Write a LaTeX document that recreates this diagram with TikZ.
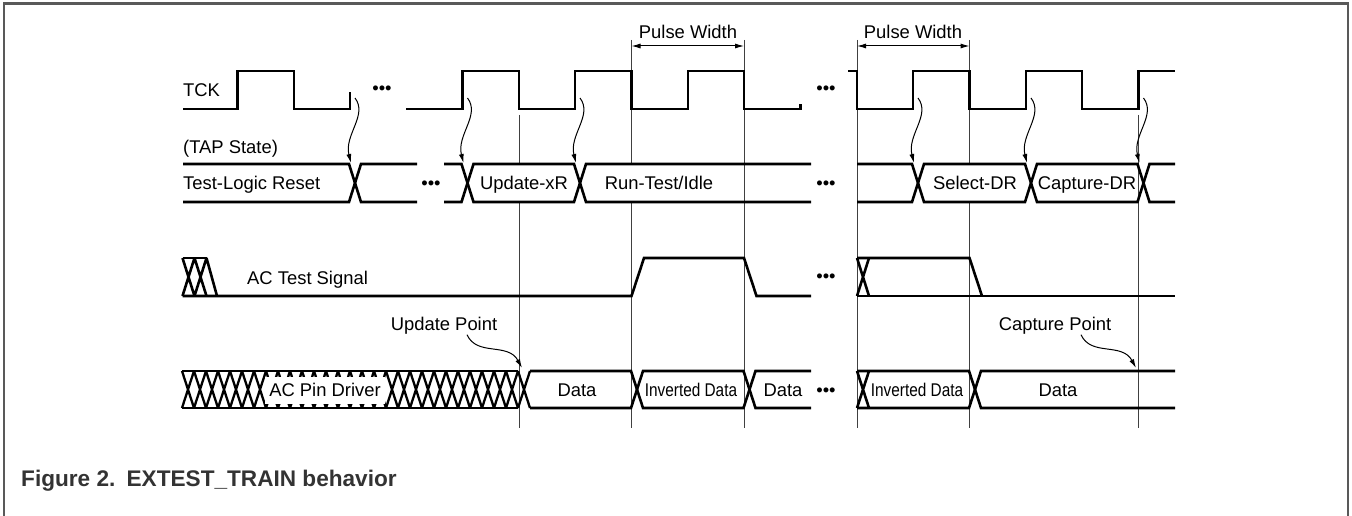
\documentclass[tikz,border=0pt]{standalone}
\usepackage{fontspec}
\setmainfont{Liberation Sans}
\usepackage{graphicx}
\usetikzlibrary{arrows.meta}

\tikzset{
  wave/.style={line width=2.6pt, line join=miter},
  guide/.style={line width=1pt, black!75},
  lbl/.style={font=\fontsize{18.4}{22}\selectfont, inner sep=0pt},
  state/.style={lbl, fill=white, inner xsep=2pt, inner ysep=12pt, text height=13.2pt, text depth=0pt},
  wiggle/.style={->, line width=1pt},
}

\begin{document}
\begin{tikzpicture}[x=1pt, y=-1pt, >={Latex[length=9pt,width=5pt]}]
	\useasboundingbox (0,0) rectangle (1352,516);
	\draw[black!65, line width=2.5pt] (4,516) -- (4,3.5) -- (1348,3.5) -- (1348,516);

	% guide lines
	\foreach \x/\y in {519/115, 631.5/40, 744/40, 857/40, 969.5/40, 1138.5/115}
		\draw[guide] (\x,\y) -- (\x,428);

	% pulse widths
	\node[lbl, anchor=base] (pw1) at (688,38.3) {Pulse Width};
	\node[lbl, anchor=base] (pw2) at (913,38.3) {Pulse Width};
	\coordinate (pw1l) at (631.5,46);
	\coordinate (pw1r) at (744,46);
	\coordinate (pw2l) at (857,46);
	\coordinate (pw2r) at (969.5,46);
	\draw[<->, line width=1pt] (pw1l) -- (pw1r);
	\draw[<->, line width=1pt] (pw2l) -- (pw2r);

	% row titles
	\node[lbl, anchor=base west] (tck) at (183,96.7) {TCK};
	\node[lbl, anchor=base west] (tap) at (183,153.5) {(TAP State)};
	\node[lbl, anchor=base west] (acts) at (247,284) {AC Test Signal};

	% TAP states
	\node[state, anchor=west] (tlr) at (181,183) {Test-Logic Reset};
	\node[state] (upd) at (524,183) {Update-xR};
	\node[state] (rti) at (659,183) {Run-Test/Idle};
	\node[state] (sdr) at (975,183) {Select-DR};
	\node[state] (cdr) at (1087,183) {Capture-DR};

	% AC pin driver, unknown part
	\draw[wave] (182,371) -- (518,371) (182,408) -- (518,408);
	\foreach \i in {0,...,28}
		\draw[line width=2.3pt] ({182+12*\i},371) -- ({194+12*\i},408) ({182+12*\i},408) -- ({194+12*\i},371);
	\node[lbl, fill=white, inner xsep=4pt, minimum height=27pt, text height=13.2pt, text depth=0pt] (pin) at (325,390) {AC Pin Driver};

	% TCK
	\draw[wave] (183,109) -- (237.5,109) -- (237.5,71) -- (294,71) -- (294,109) -- (350,109) -- (350,92);
	\draw[wave] (406,109) -- (462.5,109) -- (462.5,71) -- (519,71) -- (519,109) -- (575,109) -- (575,71) -- (631.5,71) -- (631.5,109) -- (688,109) -- (688,71) -- (744,71) -- (744,109) -- (800.5,109) -- (800.5,104);
	\draw[wave] (848,71) -- (857,71) -- (857,109) -- (913,109) -- (913,71) -- (969.5,71) -- (969.5,109) -- (1026,109) -- (1026,71) -- (1082,71) -- (1082,109) -- (1138.5,109) -- (1138.5,71) -- (1175,71);

	% TAP state bus
	\draw[wave] (183,164) -- (349,164) -- (361,202) -- (417,202);
	\draw[wave] (183,202) -- (349,202) -- (361,164) -- (417,164);
	\draw[wave] (444,164) -- (461.5,164) -- (473.5,202) -- (574,202) -- (586,164) -- (811,164);
	\draw[wave] (444,202) -- (461.5,202) -- (473.5,164) -- (574,164) -- (586,202) -- (811,202);
	\draw[wave] (857,164) -- (912,164) -- (924,202) -- (1025,202) -- (1037,164) -- (1137.5,164) -- (1149.5,202) -- (1175,202);
	\draw[wave] (857,202) -- (912,202) -- (924,164) -- (1025,164) -- (1037,202) -- (1137.5,202) -- (1149.5,164) -- (1175,164);

	% AC test signal
	\draw[wave] (182.5,258) -- (206.5,258);
	\draw[wave] (182.5,258) -- (194.5,296) (194.5,258) -- (182.5,296) (194.5,258) -- (206.5,296) (206.5,258) -- (194.5,296) (206.5,258) -- (217,296);
	\draw[wave] (182.5,296) -- (631.5,296) -- (644,258) -- (744,258) -- (756.5,296) -- (811,296);
	\draw[wave] (857,258) -- (869,296) (857,296) -- (869,258);
	\draw[wave] (857,258) -- (969.5,258) -- (982,296);
	\draw[wave] (857,296) -- (1175,296);

	% AC pin driver
	\draw[wave] (530,371) -- (631,371) -- (643,408) -- (743.5,408) -- (755.5,371) -- (811,371);
	\draw[wave] (530,408) -- (631,408) -- (643,371) -- (743.5,371) -- (755.5,408) -- (811,408);
	\draw[wave] (857,371) -- (869,408) (857,408) -- (869,371);
	\draw[wave] (857,371) -- (969,371) -- (981,408) -- (1175,408);
	\draw[wave] (857,408) -- (969,408) -- (981,371) -- (1175,371);
	\node[lbl, anchor=base] (dat1) at (577,396.7) {Data};
	\node[lbl, anchor=base] (inv1) at (691,396.7) {\scalebox{0.835}[1]{Inverted Data}};
	\node[lbl, anchor=base] (dat2) at (783,396.7) {Data};
	\node[lbl, anchor=base] (inv2) at (917,396.7) {\scalebox{0.835}[1]{Inverted Data}};
	\node[lbl, anchor=base] (dat3) at (1058,396.7) {Data};

	% ellipses
	\foreach \x/\y [count=\i] in {382/94.6, 826/94.6, 431/189.6, 826/189.6, 826/282.6, 826/396.6}
		\node[lbl, anchor=base] (gap\i) at (\x,\y) {•••};

	% clock edge to state change
	\foreach \e [count=\i] in {350,462.5,575,913,1026,1138.5}{
		\coordinate (ck\i) at ({\e+5},98);
		\coordinate (st\i) at ({\e+1},163);
		\draw[wiggle] (ck\i) .. controls +(13,17) and +(-7,-28) .. (st\i);
	}

	% update and capture points
	\node[lbl, anchor=base] (updpt) at (444,330.7) {Update Point};
	\node[lbl, anchor=base] (cappt) at (1055,330.7) {Capture Point};
	\coordinate (updtip) at (522,368);
	\coordinate (captip) at (1136,368);
	\draw[wiggle] ([xshift=23pt]updpt.south) .. controls +(10,22) and +(-14,-26) .. (updtip);
	\draw[wiggle] ([xshift=26pt]cappt.south) .. controls +(10,22) and +(-14,-26) .. (captip);

	\node[font=\bfseries\fontsize{22.6}{26}\selectfont, text=black!80, anchor=base west, inner sep=0pt] (cap) at (21,486.5) {Figure 2.\hspace{0.5em}EXTEST\_TRAIN behavior};
\end{tikzpicture}
\end{document}
